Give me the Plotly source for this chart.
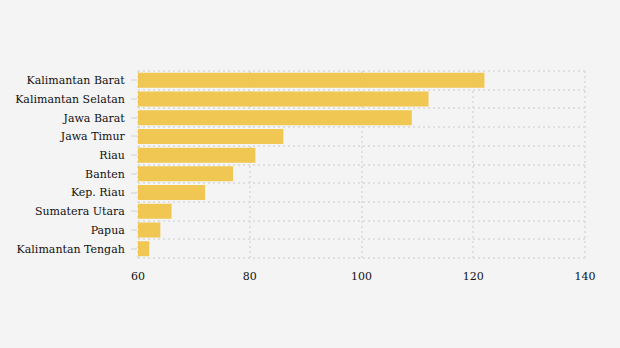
import plotly.graph_objects as go

# Provinces listed bottom to top, with their values
provinces = [
    "Kalimantan Tengah", "Papua", "Sumatera Utara", "Kep. Riau", "Banten",
    "Riau", "Jawa Timur", "Jawa Barat", "Kalimantan Selatan", "Kalimantan Barat",
]
values = [62, 64, 66, 72, 77, 81, 86, 109, 112, 122]
x_ticks = [60, 80, 100, 120, 140]

positions = list(range(len(provinces)))
boundaries = [p - 0.5 for p in positions] + [positions[-1] + 0.5]

fig = go.Figure(
    go.Bar(
        x=values,
        y=positions,
        orientation="h",
        marker=dict(color="#f0c752", line=dict(width=0)),
        width=0.8,
        hoverinfo="skip",
    )
)

serif = "'DejaVu Serif', 'Liberation Serif', serif"
grid_color = "#dfdfdf"
grid_dash = "2px,3px"

# Dotted frame around the plot area (grid lines at the axis ends)
frame = dict(color=grid_color, width=2, dash=grid_dash)
shapes = [
    dict(type="line", xref="paper", yref="paper", x0=0, x1=0, y0=0, y1=1, line=frame, layer="below"),
    dict(type="line", xref="paper", yref="paper", x0=1, x1=1, y0=0, y1=1, line=frame, layer="below"),
    dict(type="line", xref="paper", yref="paper", x0=0, x1=1, y0=0, y1=0, line=frame, layer="below"),
    dict(type="line", xref="paper", yref="paper", x0=0, x1=1, y0=1, y1=1, line=frame, layer="below"),
]

fig.update_layout(
    width=620,
    height=348,
    margin=dict(l=138, r=35, t=71, b=90),
    paper_bgcolor="#f4f4f4",
    plot_bgcolor="#f4f4f4",
    font=dict(family=serif, size=11, color="#111111"),
    showlegend=False,
    shapes=shapes,
    xaxis=dict(
        range=[60, 140],
        tickvals=x_ticks,
        ticktext=[str(v) for v in x_ticks],
        showgrid=True,
        gridcolor=grid_color,
        gridwidth=2,
        griddash=grid_dash,
        zeroline=False,
        showline=False,
        ticks="",
        ticklabelstandoff=10,
        tickfont=dict(family=serif, size=11, color="#111111"),
    ),
    yaxis=dict(
        range=[-0.5, len(provinces) - 0.5],
        tickmode="array",
        tickvals=positions,
        ticktext=provinces,
        showgrid=False,
        zeroline=False,
        showline=False,
        ticks="outside",
        ticklen=6,
        tickwidth=2,
        tickcolor="#e2e2e2",
        ticklabelstandoff=4,
        tickfont=dict(family=serif, size=11, color="#111111"),
        minor=dict(
            tickmode="array",
            tickvals=boundaries,
            showgrid=True,
            gridcolor=grid_color,
            gridwidth=2,
            griddash=grid_dash,
            ticks="",
        ),
    ),
)

fig.write_html("out.html")
